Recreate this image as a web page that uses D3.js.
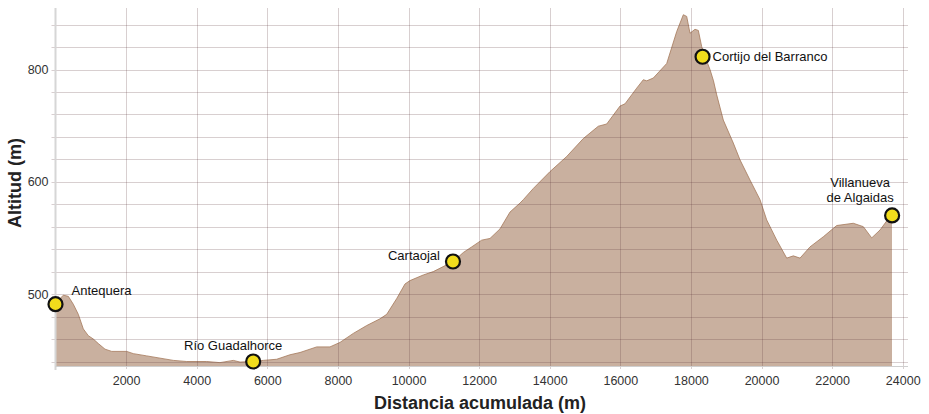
<!DOCTYPE html>
<html>
<head>
<meta charset="utf-8">
<script src="https://cdn.jsdelivr.net/npm/d3@7"></script>
<style>
  body { margin: 0; background: #fff; }
  text { font-family: "Liberation Sans", Arial, sans-serif; }
</style>
</head>
<body>
<div class="container"></div>
<script>
var w = 929;
var h = 414;

// perfil: distancia acumulada (m) y altitud (m)
var distancias = [0, 99, 221, 363, 504, 646, 788, 929, 1071, 1212, 1402, 1592, 2017, 2204, 2584, 2960,
  3337, 3717, 4283, 4660, 5037, 5227, 5567, 5887, 6266, 6643, 6926, 7400, 7776, 8060, 8436, 8816,
  9193, 9383, 9666, 9901, 10043, 10419, 10703, 11082, 11269, 11553, 11791, 12074, 12309, 12592,
  12876, 13159, 13252, 13536, 14008, 14482, 14952, 15377, 15615, 15992, 16133, 16465, 16652, 16748,
  16935, 17315, 17598, 17785, 17881, 17974, 18116, 18210, 18306, 18400, 18542, 18640, 18731, 18918, 19201,
  19391, 19674, 19958, 20147, 20431, 20714, 20901, 21091, 21374, 21751, 22131, 22601, 22884, 23122,
  23357, 23640, 23697];
var altitudes = [491, 495, 499, 498, 491, 482, 469, 463, 460, 456, 451, 449, 449, 447, 445, 443,
  441, 440, 440, 439, 441, 439.5, 440, 441, 442, 446, 448, 453, 453, 457, 465, 472,
  478, 482, 496, 509, 512, 517, 520, 526, 529, 537, 542, 548, 549.5, 558,
  573, 581, 584, 594, 618, 645, 677, 699, 703, 735, 739, 767, 782, 780,
  785, 811, 868, 898, 895, 865, 872, 870, 841, 823, 800, 780, 755, 710, 669,
  639, 603, 584, 566, 548, 532, 534, 532, 542, 551, 561, 563, 560, 550,
  557, 569, 570];

// puntos de paso
var nombres = ["Antequera", "Río Guadalhorce", "Cartaojal", "Cortijo del Barranco", "Villanueva\nde Algaidas"];
var puntoDist = [0, 5600, 11260, 18330, 23700];
var puntoAlt = [491, 440, 529, 823, 570];

var xTicks = [2000, 4000, 6000, 8000, 10000, 12000, 14000, 16000, 18000, 20000, 22000, 24000];
var yLabels = [500, 600, 800];
var yGrid = [440, 460, 480, 500, 520, 540, 560, 580, 600, 640, 680, 720, 760, 800, 840, 880];

var perfil = distancias.map(function (d, i) {
  return { dist: d, alt: altitudes[i] };
});
var puntos = nombres.map(function (n, i) {
  return { nombre: n, dist: puntoDist[i], alt: puntoAlt[i] };
});

var pLeft = 55.5, pRight = 908, pTop = 8, pBottom = 366;

var xScale = d3.scaleLinear().domain([0, 24150]).range([pLeft, pRight]);
// eje vertical en dos tramos, como en el original
var yScale = d3.scaleLinear().domain([436, 600, 910]).range([pBottom, 181.7, pTop]);

var svg = d3
  .select(".container")
  .append("svg")
  .attr("width", w)
  .attr("height", h)
  .attr("viewBox", `0 0 ${w} ${h}`);

svg.append("rect").attr("width", w).attr("height", h).attr("fill", "#fff");

// área del perfil
var area = d3.area()
  .x((d) => xScale(d.dist))
  .y0(pBottom)
  .y1((d) => yScale(d.alt));

var line = d3.line()
  .x((d) => xScale(d.dist))
  .y((d) => yScale(d.alt));

svg.append("path")
  .datum(perfil)
  .attr("d", area)
  .attr("fill", "#c9b09f");

svg.append("path")
  .datum(perfil)
  .attr("d", line)
  .attr("fill", "none")
  .attr("stroke", "#a5785a")
  .attr("stroke-width", 0.8);

// rejilla encima, semitransparente
var grid = svg.append("g").attr("stroke", "rgba(90,55,60,0.24)").attr("stroke-width", 1);

grid.selectAll(".hg")
  .data(yGrid)
  .enter()
  .append("line")
  .attr("x1", pLeft - 4)
  .attr("x2", pRight)
  .attr("y1", (d) => Math.round(yScale(d)) + 0.5)
  .attr("y2", (d) => Math.round(yScale(d)) + 0.5);

grid.selectAll(".vg")
  .data(xTicks)
  .enter()
  .append("line")
  .attr("x1", (d) => Math.round(xScale(d)) + 0.5)
  .attr("x2", (d) => Math.round(xScale(d)) + 0.5)
  .attr("y1", pTop)
  .attr("y2", pBottom + 3);

// ejes
svg.append("line")
  .attr("x1", pLeft).attr("x2", pLeft)
  .attr("y1", pTop).attr("y2", pBottom + 4)
  .attr("stroke", "#d6d6d6").attr("stroke-width", 2);

svg.append("line")
  .attr("x1", pLeft).attr("x2", pRight)
  .attr("y1", pBottom + 0.5).attr("y2", pBottom + 0.5)
  .attr("stroke", "#cfcfcf").attr("stroke-width", 1);

var x_axis = d3.axisBottom(xScale).tickValues(xTicks).tickSize(0).tickPadding(10).tickFormat(d3.format("d"));
var y_axis = d3.axisLeft(yScale).tickValues(yLabels).tickSize(0).tickPadding(6).tickFormat(d3.format("d"));

var gx = svg.append("g").attr("transform", `translate(0,${pBottom})`).call(x_axis);
var gy = svg.append("g").attr("transform", `translate(${pLeft - 1},0)`).call(y_axis);

[gx, gy].forEach(function (g) {
  g.select(".domain").remove();
  g.selectAll("text")
    .attr("font-size", 12.5)
    .attr("fill", "#333")
    .style("font-family", '"Liberation Sans", Arial, sans-serif');
});

// títulos
svg.append("text")
  .attr("x", 480)
  .attr("y", 409)
  .attr("text-anchor", "middle")
  .attr("font-size", 18)
  .attr("font-weight", "bold")
  .attr("fill", "#222")
  .text("Distancia acumulada (m)");

svg.append("text")
  .attr("transform", "translate(21,183) rotate(-90)")
  .attr("text-anchor", "middle")
  .attr("font-size", 18)
  .attr("font-weight", "bold")
  .attr("fill", "#222")
  .text("Altitud (m)");

// puntos de paso
svg.selectAll(".punto")
  .data(puntos)
  .enter()
  .append("circle")
  .attr("cx", (d) => xScale(d.dist))
  .attr("cy", (d) => yScale(d.alt))
  .attr("r", 7)
  .attr("fill", "#f1dc1c")
  .attr("stroke", "#111")
  .attr("stroke-width", 2.2);

var etiquetas = [
  { dx: 16, dy: -9, anchor: "start" },
  { dx: -20, dy: -12, anchor: "middle" },
  { dx: -13, dy: -1, anchor: "end" },
  { dx: 10, dy: 4, anchor: "start" },
  { dx: -32, dy: -28, anchor: "middle" }
];

puntos.forEach(function (p, i) {
  var e = etiquetas[i];
  var t = svg.append("text")
    .attr("x", xScale(p.dist) + e.dx)
    .attr("y", yScale(p.alt) + e.dy)
    .attr("text-anchor", e.anchor)
    .attr("font-size", 13)
    .attr("fill", "#111");
  p.nombre.split("\n").forEach(function (s, j) {
    t.append("tspan")
      .attr("x", xScale(p.dist) + e.dx)
      .attr("dy", j === 0 ? 0 : 15)
      .text(s);
  });
});
</script>
</body>
</html>
